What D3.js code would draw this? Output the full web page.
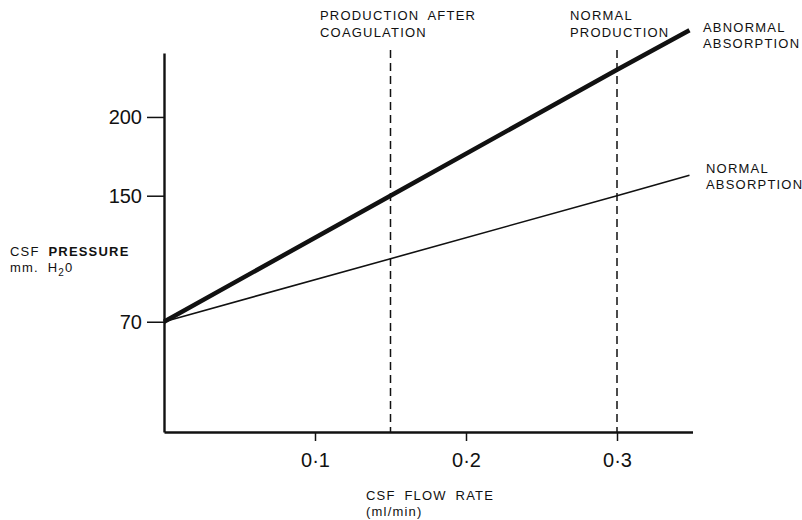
<!DOCTYPE html>
<html>
<head>
<meta charset="utf-8">
<script src="https://cdn.jsdelivr.net/npm/d3@7"></script>
<style>
  html, body { margin: 0; padding: 0; background: #fff; }
  svg { display: block; font-family: "Liberation Sans", Arial, Helvetica, sans-serif; }
  .lbl { font-size: 13px; letter-spacing: 1.2px; word-spacing: 4px; fill: #111; }
  .tick text { font-size: 20px; fill: #111; }
</style>
</head>
<body>
<svg id="chart" width="802" height="520"></svg>
<script>
// CSF flow rate (ml/min) at which each pressure line is read
const flowRate = [0, 0.15, 0.3, 0.348];
// CSF pressure (mm H2O) with abnormal and normal absorption
const abnormalAbsorption = [70, 150, 230, 255];
const normalAbsorption = [70, 110, 150, 163];
// Reference flow rates marked by dashed verticals
const markerFlows = [0.15, 0.3];
const markerLabels = [["PRODUCTION AFTER", "COAGULATION"], ["NORMAL", "PRODUCTION"]];
// Axis ticks
const xTicks = [0.1, 0.2, 0.3];
const xTickLabels = ["0·1", "0·2", "0·3"];
const yTicks = [70, 150, 200];

const svg = d3.select("#chart");
const x = d3.scaleLinear().domain([0, 0.35]).range([164, 692.5]);
const y = d3.scaleLinear().domain([0, 240.6]).range([432, 53]);

// Axes
const xAxis = d3.axisBottom(x).tickValues(xTicks)
  .tickFormat((d, i) => xTickLabels[i]).tickSize(9).tickPadding(12).tickSizeOuter(0);
const gx = svg.append("g").attr("class", "x").attr("transform", `translate(0,${y(0)})`).call(xAxis);
gx.select(".domain").attr("stroke", "#111").attr("stroke-width", 2.4);
gx.selectAll(".tick line").attr("stroke", "#111").attr("stroke-width", 1.5);

const yAxis = d3.axisLeft(y).tickValues(yTicks).tickSize(17).tickPadding(5).tickSizeOuter(0);
const gy = svg.append("g").attr("class", "y").attr("transform", `translate(${x(0)},0)`).call(yAxis);
gy.select(".domain").attr("stroke", "#111").attr("stroke-width", 2.4);
gy.selectAll(".tick line").attr("stroke", "#111").attr("stroke-width", 1.5);
gy.selectAll(".tick text").attr("dy", "0.34em");

// Dashed reference lines
svg.selectAll("line.marker").data(markerFlows).join("line")
  .attr("class", "marker")
  .attr("x1", d => x(d)).attr("x2", d => x(d))
  .attr("y1", 50).attr("y2", y(0))
  .attr("stroke", "#111").attr("stroke-width", 1.5)
  .attr("stroke-dasharray", "8,5");

// Pressure lines
const line = d3.line().x((d, i) => x(flowRate[i])).y(d => y(d));
svg.append("path").datum(abnormalAbsorption).attr("d", line)
  .attr("fill", "none").attr("stroke", "#111").attr("stroke-width", 4.5).attr("stroke-linecap", "butt");
svg.append("path").datum(normalAbsorption).attr("d", line)
  .attr("fill", "none").attr("stroke", "#111").attr("stroke-width", 1.6);

// Multi-line label helper
function label(lines, px, py, dy) {
  const t = svg.append("text").attr("class", "lbl").attr("x", px).attr("y", py);
  lines.forEach((s, i) => t.append("tspan").attr("x", px).attr("dy", i ? dy : 0).text(s));
  return t;
}
label(markerLabels[0], 320, 20, 16.5);
label(markerLabels[1], 570, 20, 16.5);
label(["ABNORMAL", "ABSORPTION"], 703, 32, 16);
label(["NORMAL", "ABSORPTION"], 706, 173, 16);

// Axis titles
const yt = svg.append("text").attr("class", "lbl").attr("x", 10).attr("y", 256);
yt.append("tspan").text("CSF ");
yt.append("tspan").attr("font-weight", "bold").text("PRESSURE");
const yu = svg.append("text").attr("class", "lbl").attr("x", 10).attr("y", 272);
yu.append("tspan").text("mm. H");
yu.append("tspan").attr("font-size", "10px").attr("dy", 4).text("2");
yu.append("tspan").attr("dy", -4).text("0");

label(["CSF FLOW RATE", "(ml/min)"], 366, 500, 16);
</script>
</body>
</html>
